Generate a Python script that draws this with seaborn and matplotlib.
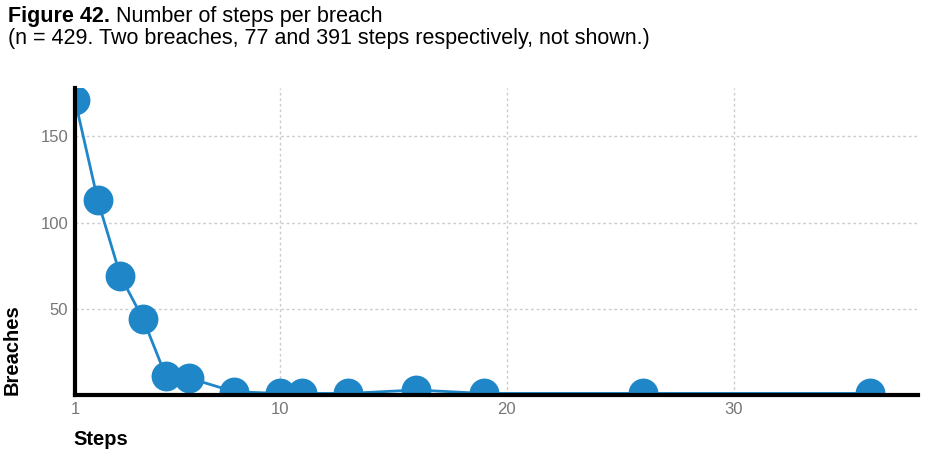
import matplotlib
matplotlib.use("Agg")
import matplotlib.pyplot as plt
import seaborn as sns
import pandas as pd

# data
steps = [1, 2, 3, 4, 5, 6, 8, 10, 11, 13, 16, 19, 26, 36]
breaches = [171, 113, 69, 44, 11, 10, 2, 1, 1, 1, 3, 1, 1, 1]
x_ticks = [1, 10, 20, 30]
y_ticks = [50, 100, 150]

title_bold = "Figure 42."
title_rest = " Number of steps per breach"
subtitle = "(n = 429. Two breaches, 77 and 391 steps respectively, not shown.)"

df = pd.DataFrame({"Steps": steps, "Breaches": breaches})

sns.set_style("white")
plt.rcParams["font.family"] = ["Liberation Sans", "DejaVu Sans"]
plt.rcParams["text.color"] = "black"

fig = plt.figure(figsize=(9.45, 4.71), dpi=100)
ax = fig.add_axes([0.0794, 0.161, 0.892, 0.652])

blue = "#1f87c8"
sns.lineplot(data=df, x="Steps", y="Breaches", ax=ax, color=blue, lw=2,
             marker="o", markersize=21.5, markeredgewidth=0)

ax.set_xlim(1, 38.1)
ax.set_ylim(0, 178)
ax.set_xticks(x_ticks)
ax.set_yticks(y_ticks)
ax.grid(True, color="#cccccc", linestyle=(0, (2, 2)), linewidth=1)
ax.tick_params(length=0, labelsize=12, labelcolor="#777777", pad=5)

sns.despine(ax=ax)
for side in ["left", "bottom"]:
    ax.spines[side].set_linewidth(3)
    ax.spines[side].set_color("black")
    ax.spines[side].set_zorder(5)

ax.set_xlabel("Steps", fontsize=14.5, fontweight="bold", color="black")
ax.xaxis.set_label_coords(-0.002, -0.115)
ax.xaxis.label.set_horizontalalignment("left")
ax.set_ylabel("Breaches", fontsize=14.5, fontweight="bold", color="black")
ax.yaxis.set_label_coords(-0.063, 0)
ax.yaxis.label.set_horizontalalignment("left")

t1 = fig.text(0.008, 0.966, title_bold, fontsize=15.5, fontweight="bold",
              va="center", color="black")
fig.canvas.draw()
bb = t1.get_window_extent(fig.canvas.get_renderer())
fig.text(bb.x1 / fig.bbox.width, 0.966, title_rest, fontsize=15.5,
         va="center", color="black")
fig.text(0.008, 0.919, subtitle, fontsize=15.5, va="center", color="black")

fig.savefig("out.png", dpi=100)
